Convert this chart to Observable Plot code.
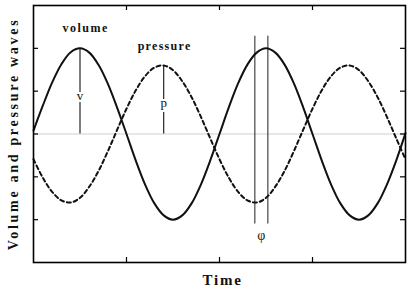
<!DOCTYPE html>
<html>
<head>
<meta charset="utf-8">
<script src="https://cdn.jsdelivr.net/npm/d3@7"></script>
<script src="https://cdn.jsdelivr.net/npm/@observablehq/plot@0.6"></script>
<style>
  html, body { margin: 0; padding: 0; background: #fff; }
  svg { display: block; }
</style>
</head>
<body>
<div id="chart"></div>
<script>
// Time samples (arbitrary units, 4 units across the frame)
const time = [0.0,0.1,0.2,0.3,0.4,0.5,0.6,0.7,0.8,0.9,1.0,1.1,1.2,1.3,1.4,1.5,1.6,1.7,1.8,1.9,2.0,
              2.1,2.2,2.3,2.4,2.5,2.6,2.7,2.8,2.9,3.0,3.1,3.2,3.3,3.4,3.5,3.6,3.7,3.8,3.9,4.0];
// Volume wave (solid)
const volume = [0.08,0.66,1.20,1.63,1.91,2.00,1.90,1.61,1.17,0.61,0.00,-0.62,-1.18,-1.62,-1.90,-2.00,-1.90,-1.62,-1.18,-0.62,0.00,
                0.62,1.18,1.62,1.90,2.00,1.90,1.62,1.18,0.62,0.00,-0.62,-1.18,-1.62,-1.90,-2.00,-1.90,-1.62,-1.18,-0.62,0.02];
// Pressure wave (dashed)
const pressure = [-0.59,-1.02,-1.35,-1.55,-1.60,-1.49,-1.23,-0.86,-0.40,0.10,0.59,1.02,1.35,1.55,1.60,1.49,1.23,0.86,0.40,-0.10,-0.59,
                  -1.02,-1.35,-1.55,-1.60,-1.49,-1.23,-0.86,-0.40,0.10,0.59,1.02,1.35,1.55,1.60,1.49,1.23,0.86,0.40,-0.10,-0.59];

const xTicks = [1, 2, 3];
const yTicks = [-2, -1, 0, 1, 2];
const xDomain = [0, 4];
const yDomain = [-3, 3];

// Amplitude markers (v, p)
const ampMarkers = [
  {label: "v", x: 0.5, top: 2.0, labelY: 0.88},
  {label: "p", x: 1.4, top: 1.6, labelY: 0.72}
];
// Phase markers (φ)
const phaseLines = [2.38, 2.52];
const phaseTop = 2.28, phaseBottom = -2.1;
const phaseLabel = {label: "φ", x: 2.45, y: -2.38};

// Curve labels
const curveLabels = [
  {label: "volume", x: 0.56, y: 2.48},
  {label: "pressure", x: 1.41, y: 2.05}
];
const xLabel = "Time";
const yLabel = "Volume and pressure waves";

const width = 407, height = 293;
const margin = {top: 5, right: 2, bottom: 31, left: 33};
const plotW = width - margin.left - margin.right;
const plotH = height - margin.top - margin.bottom;
const tickLen = 5;

const volData = time.map((t, i) => ({t, v: volume[i]}));
const presData = time.map((t, i) => ({t, v: pressure[i]}));
const phaseData = phaseLines.map(x => ({x, y1: phaseBottom, y2: phaseTop}));

const serif = "'Liberation Serif', 'DejaVu Serif', serif";

const chart = Plot.plot({
  width, height,
  marginTop: margin.top, marginRight: margin.right,
  marginBottom: margin.bottom, marginLeft: margin.left,
  x: {domain: xDomain, axis: null},
  y: {domain: yDomain, axis: null},
  style: {background: "#fff", fontFamily: serif},
  marks: [
    Plot.ruleY([0], {stroke: "#cfcfcf", strokeWidth: 1.2}),
    // inward ticks
    Plot.ruleX(xTicks, {x: d => d, insetTop: plotH - tickLen, stroke: "#000", strokeWidth: 1.2}),
    Plot.ruleX(xTicks, {x: d => d, insetBottom: plotH - tickLen, stroke: "#000", strokeWidth: 1.2}),
    Plot.ruleY(yTicks, {y: d => d, insetRight: plotW - tickLen, stroke: "#000", strokeWidth: 1.2}),
    Plot.ruleY(yTicks, {y: d => d, insetLeft: plotW - tickLen, stroke: "#000", strokeWidth: 1.2}),
    // amplitude markers
    Plot.ruleX(ampMarkers, {x: "x", y1: 0, y2: "top", stroke: "#111", strokeWidth: 1.1}),
    Plot.text(ampMarkers, {x: "x", y: "labelY", text: "label", fontSize: 13, fill: "#111",
      stroke: "#fff", strokeWidth: 4, fontFamily: serif}),
    // phase lines
    Plot.ruleX(phaseData, {x: "x", y1: "y1", y2: "y2", stroke: "#333", strokeWidth: 1.1}),
    Plot.text([phaseLabel], {x: "x", y: "y", text: "label", fontSize: 14, fill: "#222", fontFamily: serif}),
    // curves
    Plot.line(presData, {x: "t", y: "v", curve: "catmull-rom", stroke: "#111", strokeWidth: 2,
      strokeDasharray: "4,3"}),
    Plot.line(volData, {x: "t", y: "v", curve: "catmull-rom", stroke: "#111", strokeWidth: 2}),
    // curve labels
    Plot.text(curveLabels, {x: "x", y: "y", text: "label", fontSize: 12, fontWeight: "bold",
      fill: "#111", fontFamily: serif}),
    // frame
    Plot.frame({stroke: "#000", strokeWidth: 1.6}),
    // axis labels
    Plot.text([xLabel], {frameAnchor: "bottom", dy: 22, dx: 3, text: d => d, fontSize: 15,
      fontWeight: "bold", fill: "#111", fontFamily: serif}),
    Plot.text([yLabel], {frameAnchor: "left", dx: -20, rotate: -90, textAnchor: "middle", text: d => d,
      fontSize: 14, fontWeight: "bold", fill: "#111", fontFamily: serif})
  ]
});

// letter spacing like the original typesetting
const spacing = {"volume": "1.5px", "pressure": "1.3px", "Time": "1.8px", "Volume and pressure waves": "2.7px"};
d3.select(chart).selectAll("text").each(function() {
  const s = spacing[this.textContent];
  if (s) this.setAttribute("letter-spacing", s);
});
document.getElementById("chart").appendChild(chart);
</script>
</body>
</html>
